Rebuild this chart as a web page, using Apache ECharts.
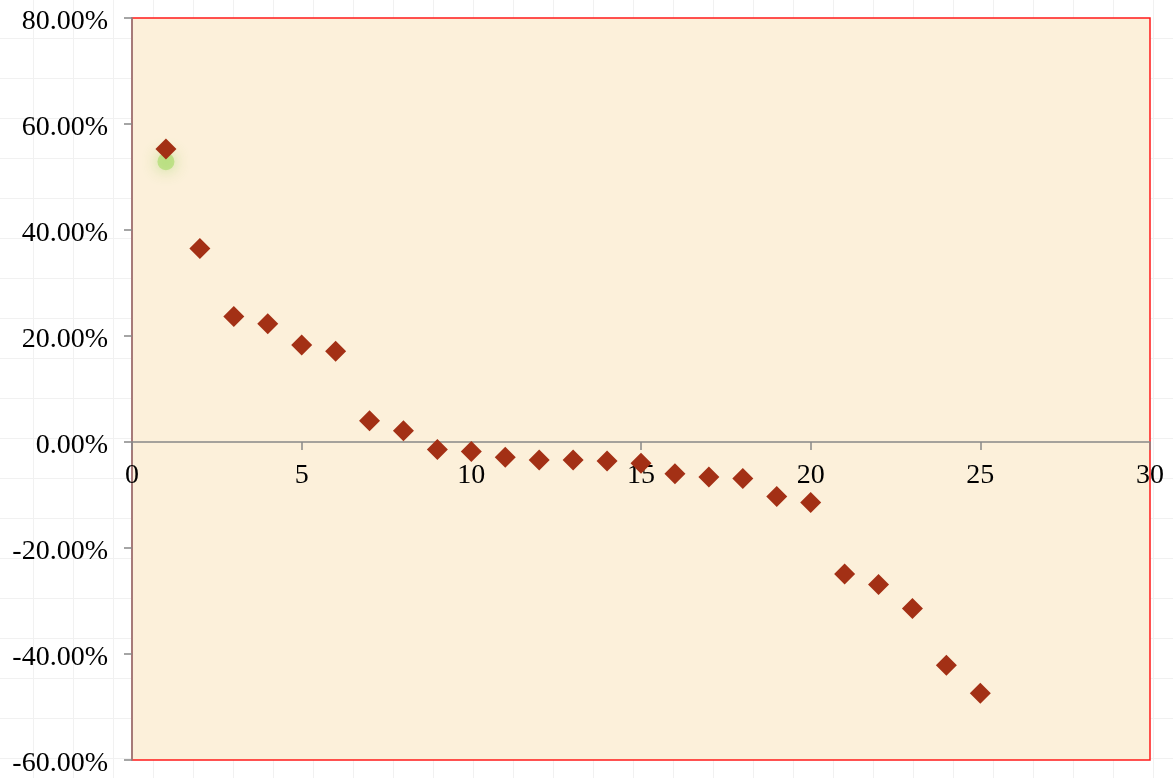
<!DOCTYPE html>
<html>
<head>
<meta charset="utf-8">
<script src="https://cdn.jsdelivr.net/npm/echarts@6/dist/echarts.min.js"></script>
<style>
  html, body { margin: 0; padding: 0; width: 1173px; height: 778px; overflow: hidden; }
  body {
    background-color: #ffffff;
    background-image:
      linear-gradient(to right, #f1f1f1 1px, transparent 1px),
      linear-gradient(to bottom, #f1f1f1 1px, transparent 1px);
    background-size: 40px 40px;
    background-position: 33px 38px;
  }
  #chart { width: 1173px; height: 778px; }
</style>
</head>
<body>
<div id="chart"></div>
<script>
// Data (x = rank, y = percent change)
const xValues = [1, 2, 3, 4, 5, 6, 7, 8, 9, 10, 11, 12, 13, 14, 15, 16, 17, 18, 19, 20, 21, 22, 23, 24, 25];
const yValues = [55.3, 36.5, 23.7, 22.3, 18.3, 17.1, 4.0, 2.1, -1.4, -1.8, -2.9, -3.4, -3.4, -3.6, -4.0, -6.0, -6.6, -6.9, -10.3, -11.4, -24.9, -26.9, -31.4, -42.1, -47.4];
const glowX = [1];
const glowY = [52.9];
const xTicks = [0, 5, 10, 15, 20, 25, 30];
const yTicks = [-60, -40, -20, 0, 20, 40, 60, 80];

const points = xValues.map((x, i) => [x, yValues[i]]);
const glowPoints = glowX.map((x, i) => [x, glowY[i]]);

const font = '"Liberation Serif", "DejaVu Serif", serif';
const chart = echarts.init(document.getElementById('chart'), null, { renderer: 'canvas' });
chart.setOption({
  backgroundColor: 'transparent',
  animation: false,
  grid: {
    left: 132, right: 23, top: 18, bottom: 18,
    containLabel: false,
    outerBoundsMode: 'none',
    show: true,
    backgroundColor: '#fcf0da',
    borderColor: '#ff1a1a',
    borderWidth: 1.5
  },
  xAxis: {
    type: 'value',
    position: 'bottom',
    min: xTicks[0],
    max: xTicks[xTicks.length - 1],
    interval: 5,
    offset: 0,
    z: 0,
    axisLine: { show: true, onZero: false, lineStyle: { color: '#888888', width: 1.5 } },
    axisTick: { show: true, inside: false, length: 8, lineStyle: { color: '#888888', width: 1.5 } },
    axisLabel: { color: '#000000', fontFamily: font, fontSize: 28, margin: 20, hideOverlap: false },
    splitLine: { show: false }
  },
  yAxis: {
    type: 'value',
    min: yTicks[0],
    max: yTicks[yTicks.length - 1],
    interval: 20,
    axisLine: { show: true, onZero: false, lineStyle: { color: '#888888', width: 1.5 } },
    axisTick: { show: true, inside: false, length: 8, lineStyle: { color: '#888888', width: 1.5 } },
    axisLabel: {
      color: '#000000', fontFamily: font, fontSize: 28, margin: 24,
      formatter: v => '{t|' + v.toFixed(2) + '%}',
      rich: {
        t: { fontFamily: font, fontSize: 28, color: '#000000', padding: [7, 0, 0, 0] }
      }
    },
    splitLine: { show: false }
  },
  series: [
    {
      name: 'glow',
      type: 'scatter',
      data: glowPoints,
      symbol: 'circle',
      symbolSize: 17,
      z: 3,
      itemStyle: {
        color: 'rgba(150, 215, 80, 0.5)',
        opacity: 1,
        shadowBlur: 16,
        shadowColor: 'rgba(110, 200, 40, 0.9)'
      },
      silent: true
    },
    {
      name: 'values',
      type: 'scatter',
      data: points,
      symbol: 'diamond',
      symbolSize: [21, 21],
      z: 4,
      itemStyle: { color: '#a33015', opacity: 1 }
    }
  ]
});

// Move the x axis (line, ticks and labels) up to the y = 0 line using the library's own scale.
const zeroPx = chart.convertToPixel({ yAxisIndex: 0 }, 0);
const bottomPx = chart.convertToPixel({ yAxisIndex: 0 }, yTicks[0]);
chart.setOption({ xAxis: { offset: zeroPx - bottomPx } });
</script>
</body>
</html>
